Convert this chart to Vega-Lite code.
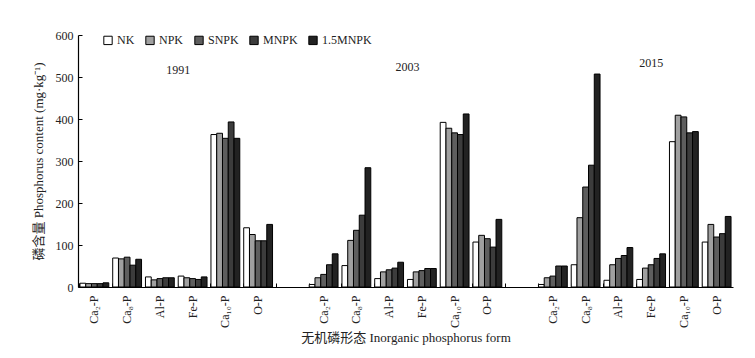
{
  "$schema": "https://vega.github.io/schema/vega-lite/v6.json",
  "width": 655,
  "height": 252,
  "autosize": "none",
  "padding": {"left": 78, "top": 35, "right": 22, "bottom": 71},
  "background": "white",
  "config": {
    "font": "Liberation Serif, Noto Sans CJK SC",
    "view": {"stroke": null},
    "axis": {"labelFont": "Liberation Serif, DejaVu Serif, Noto Sans CJK SC", "titleFont": "Liberation Serif, Noto Sans CJK SC", "labelColor": "#222", "titleColor": "#222", "domainColor": "#000", "tickColor": "#000", "grid": false, "titleFontWeight": "normal"}
  },
  "datasets": {
    "bars": [
      {"year": "1991", "form": "Ca₂-P", "trt": "NK", "value": 9},
      {"year": "1991", "form": "Ca₂-P", "trt": "NPK", "value": 8},
      {"year": "1991", "form": "Ca₂-P", "trt": "SNPK", "value": 8},
      {"year": "1991", "form": "Ca₂-P", "trt": "MNPK", "value": 8},
      {"year": "1991", "form": "Ca₂-P", "trt": "1.5MNPK", "value": 10},
      {"year": "1991", "form": "Ca₈-P", "trt": "NK", "value": 69},
      {"year": "1991", "form": "Ca₈-P", "trt": "NPK", "value": 67},
      {"year": "1991", "form": "Ca₈-P", "trt": "SNPK", "value": 71},
      {"year": "1991", "form": "Ca₈-P", "trt": "MNPK", "value": 52},
      {"year": "1991", "form": "Ca₈-P", "trt": "1.5MNPK", "value": 66},
      {"year": "1991", "form": "Al-P", "trt": "NK", "value": 24},
      {"year": "1991", "form": "Al-P", "trt": "NPK", "value": 17},
      {"year": "1991", "form": "Al-P", "trt": "SNPK", "value": 20},
      {"year": "1991", "form": "Al-P", "trt": "MNPK", "value": 22},
      {"year": "1991", "form": "Al-P", "trt": "1.5MNPK", "value": 22},
      {"year": "1991", "form": "Fe-P", "trt": "NK", "value": 26},
      {"year": "1991", "form": "Fe-P", "trt": "NPK", "value": 22},
      {"year": "1991", "form": "Fe-P", "trt": "SNPK", "value": 20},
      {"year": "1991", "form": "Fe-P", "trt": "MNPK", "value": 18},
      {"year": "1991", "form": "Fe-P", "trt": "1.5MNPK", "value": 24},
      {"year": "1991", "form": "Ca₁₀-P", "trt": "NK", "value": 363},
      {"year": "1991", "form": "Ca₁₀-P", "trt": "NPK", "value": 366},
      {"year": "1991", "form": "Ca₁₀-P", "trt": "SNPK", "value": 354},
      {"year": "1991", "form": "Ca₁₀-P", "trt": "MNPK", "value": 393},
      {"year": "1991", "form": "Ca₁₀-P", "trt": "1.5MNPK", "value": 354},
      {"year": "1991", "form": "O-P", "trt": "NK", "value": 141},
      {"year": "1991", "form": "O-P", "trt": "NPK", "value": 125},
      {"year": "1991", "form": "O-P", "trt": "SNPK", "value": 110},
      {"year": "1991", "form": "O-P", "trt": "MNPK", "value": 110},
      {"year": "1991", "form": "O-P", "trt": "1.5MNPK", "value": 149},
      {"year": "2003", "form": "Ca₂-P", "trt": "NK", "value": 6},
      {"year": "2003", "form": "Ca₂-P", "trt": "NPK", "value": 22},
      {"year": "2003", "form": "Ca₂-P", "trt": "SNPK", "value": 30},
      {"year": "2003", "form": "Ca₂-P", "trt": "MNPK", "value": 53},
      {"year": "2003", "form": "Ca₂-P", "trt": "1.5MNPK", "value": 79},
      {"year": "2003", "form": "Ca₈-P", "trt": "NK", "value": 51},
      {"year": "2003", "form": "Ca₈-P", "trt": "NPK", "value": 111},
      {"year": "2003", "form": "Ca₈-P", "trt": "SNPK", "value": 135},
      {"year": "2003", "form": "Ca₈-P", "trt": "MNPK", "value": 171},
      {"year": "2003", "form": "Ca₈-P", "trt": "1.5MNPK", "value": 284},
      {"year": "2003", "form": "Al-P", "trt": "NK", "value": 20},
      {"year": "2003", "form": "Al-P", "trt": "NPK", "value": 36},
      {"year": "2003", "form": "Al-P", "trt": "SNPK", "value": 41},
      {"year": "2003", "form": "Al-P", "trt": "MNPK", "value": 45},
      {"year": "2003", "form": "Al-P", "trt": "1.5MNPK", "value": 59},
      {"year": "2003", "form": "Fe-P", "trt": "NK", "value": 18},
      {"year": "2003", "form": "Fe-P", "trt": "NPK", "value": 36},
      {"year": "2003", "form": "Fe-P", "trt": "SNPK", "value": 39},
      {"year": "2003", "form": "Fe-P", "trt": "MNPK", "value": 44},
      {"year": "2003", "form": "Fe-P", "trt": "1.5MNPK", "value": 44},
      {"year": "2003", "form": "Ca₁₀-P", "trt": "NK", "value": 392},
      {"year": "2003", "form": "Ca₁₀-P", "trt": "NPK", "value": 378},
      {"year": "2003", "form": "Ca₁₀-P", "trt": "SNPK", "value": 367},
      {"year": "2003", "form": "Ca₁₀-P", "trt": "MNPK", "value": 363},
      {"year": "2003", "form": "Ca₁₀-P", "trt": "1.5MNPK", "value": 412},
      {"year": "2003", "form": "O-P", "trt": "NK", "value": 107},
      {"year": "2003", "form": "O-P", "trt": "NPK", "value": 123},
      {"year": "2003", "form": "O-P", "trt": "SNPK", "value": 115},
      {"year": "2003", "form": "O-P", "trt": "MNPK", "value": 95},
      {"year": "2003", "form": "O-P", "trt": "1.5MNPK", "value": 161},
      {"year": "2015", "form": "Ca₂-P", "trt": "NK", "value": 6},
      {"year": "2015", "form": "Ca₂-P", "trt": "NPK", "value": 22},
      {"year": "2015", "form": "Ca₂-P", "trt": "SNPK", "value": 26},
      {"year": "2015", "form": "Ca₂-P", "trt": "MNPK", "value": 50},
      {"year": "2015", "form": "Ca₂-P", "trt": "1.5MNPK", "value": 50},
      {"year": "2015", "form": "Ca₈-P", "trt": "NK", "value": 53},
      {"year": "2015", "form": "Ca₈-P", "trt": "NPK", "value": 165},
      {"year": "2015", "form": "Ca₈-P", "trt": "SNPK", "value": 238},
      {"year": "2015", "form": "Ca₈-P", "trt": "MNPK", "value": 290},
      {"year": "2015", "form": "Ca₈-P", "trt": "1.5MNPK", "value": 507},
      {"year": "2015", "form": "Al-P", "trt": "NK", "value": 16},
      {"year": "2015", "form": "Al-P", "trt": "NPK", "value": 53},
      {"year": "2015", "form": "Al-P", "trt": "SNPK", "value": 68},
      {"year": "2015", "form": "Al-P", "trt": "MNPK", "value": 75},
      {"year": "2015", "form": "Al-P", "trt": "1.5MNPK", "value": 94},
      {"year": "2015", "form": "Fe-P", "trt": "NK", "value": 18},
      {"year": "2015", "form": "Fe-P", "trt": "NPK", "value": 45},
      {"year": "2015", "form": "Fe-P", "trt": "SNPK", "value": 53},
      {"year": "2015", "form": "Fe-P", "trt": "MNPK", "value": 68},
      {"year": "2015", "form": "Fe-P", "trt": "1.5MNPK", "value": 79},
      {"year": "2015", "form": "Ca₁₀-P", "trt": "NK", "value": 346},
      {"year": "2015", "form": "Ca₁₀-P", "trt": "NPK", "value": 409},
      {"year": "2015", "form": "Ca₁₀-P", "trt": "SNPK", "value": 405},
      {"year": "2015", "form": "Ca₁₀-P", "trt": "MNPK", "value": 367},
      {"year": "2015", "form": "Ca₁₀-P", "trt": "1.5MNPK", "value": 370},
      {"year": "2015", "form": "O-P", "trt": "NK", "value": 107},
      {"year": "2015", "form": "O-P", "trt": "NPK", "value": 149},
      {"year": "2015", "form": "O-P", "trt": "SNPK", "value": 119},
      {"year": "2015", "form": "O-P", "trt": "MNPK", "value": 127},
      {"year": "2015", "form": "O-P", "trt": "1.5MNPK", "value": 168}
    ],
    "years": [
      {"year": "1991", "slot": "1991|Fe-P", "y": 517, "pos": "edge"},
      {"year": "2003", "slot": "2003|Fe-P", "y": 524, "pos": "edge"},
      {"year": "2015", "slot": "2015|Fe-P", "y": 533, "pos": "mid"}
    ]
  },
  "layer": [
    {
      "data": {"name": "bars"},
      "transform": [{"calculate": "datum.year + '|' + datum.form", "as": "slot"}],
      "mark": {"type": "bar", "stroke": "#000", "strokeWidth": 1},
      "encoding": {
        "x": {
          "field": "slot", "type": "nominal",
          "scale": {
            "domain": ["1991|Ca₂-P", "1991|Ca₈-P", "1991|Al-P", "1991|Fe-P", "1991|Ca₁₀-P", "1991|O-P", "gap1",
                       "2003|Ca₂-P", "2003|Ca₈-P", "2003|Al-P", "2003|Fe-P", "2003|Ca₁₀-P", "2003|O-P", "gap2",
                       "2015|Ca₂-P", "2015|Ca₈-P", "2015|Al-P", "2015|Fe-P", "2015|Ca₁₀-P", "2015|O-P"],
            "paddingInner": 0.12, "paddingOuter": 0.06
          },
          "axis": {
            "title": "无机磷形态 Inorganic phosphorus form",
            "titleFontSize": 13, "titlePadding": 4,
            "labelExpr": "indexof(datum.value, '|') >= 0 ? split(datum.value, '|')[1] : ''",
            "labelAngle": -90, "labelFontSize": 12, "labelPadding": 12,
            "bandPosition": 0, "tickSize": -4, "tickWidth": 1, "domainWidth": 1.2
          }
        },
        "xOffset": {"field": "trt", "type": "nominal", "sort": ["NK", "NPK", "SNPK", "MNPK", "1.5MNPK"], "scale": {"paddingInner": 0, "paddingOuter": 0}},
        "y": {
          "field": "value", "type": "quantitative",
          "scale": {"domain": [0, 600], "nice": false},
          "axis": {
            "title": "磷含量 Phosphorus content (mg·kg⁻¹)",
            "titleFontSize": 13, "titlePadding": 10,
            "values": [0, 100, 200, 300, 400, 500, 600],
            "labelFontSize": 12, "labelPadding": 9, "tickSize": -4, "tickWidth": 1, "domainWidth": 1.2
          }
        },
        "fill": {
          "field": "trt", "type": "nominal",
          "sort": ["NK", "NPK", "SNPK", "MNPK", "1.5MNPK"],
          "scale": {"domain": ["NK", "NPK", "SNPK", "MNPK", "1.5MNPK"], "range": ["#ffffff", "#a0a0a0", "#5e5e5e", "#3c3c3c", "#222222"]},
          "legend": {
            "title": null, "orient": "none", "direction": "horizontal",
            "legendX": 24, "legendY": -1,
            "symbolType": "square", "symbolSize": 70, "symbolStrokeColor": "#000", "symbolStrokeWidth": 1,
            "labelFontSize": 12, "labelFont": "Liberation Serif", "labelColor": "#222", "columnPadding": 8, "labelOffset": 3
          }
        }
      }
    },
    {
      "data": {"name": "years"},
      "transform": [{"filter": "datum.pos == 'edge'"}],
      "mark": {"type": "text", "fontSize": 12, "font": "Liberation Serif", "color": "#222"},
      "encoding": {
        "x": {"field": "slot", "type": "nominal", "bandPosition": 0},
        "y": {"field": "y", "type": "quantitative"},
        "text": {"field": "year"}
      }
    },
    {
      "data": {"name": "years"},
      "transform": [{"filter": "datum.pos == 'mid'"}],
      "mark": {"type": "text", "fontSize": 12, "font": "Liberation Serif", "color": "#222"},
      "encoding": {
        "x": {"field": "slot", "type": "nominal", "bandPosition": 0.5},
        "y": {"field": "y", "type": "quantitative"},
        "text": {"field": "year"}
      }
    }
  ]
}
